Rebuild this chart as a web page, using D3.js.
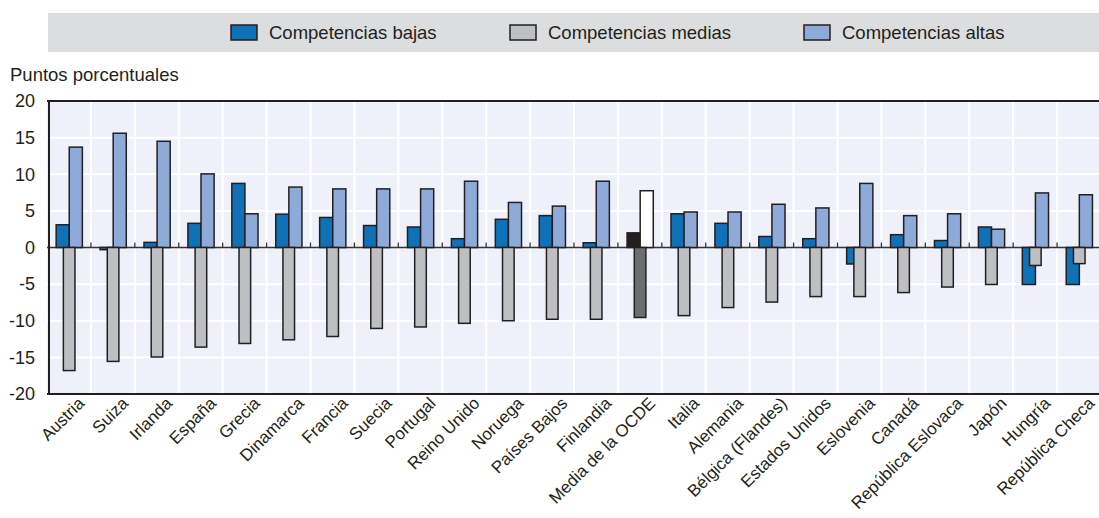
<!DOCTYPE html>
<html><head><meta charset="utf-8">
<script src="https://d3js.org/d3.v7.min.js"></script>
<style>
body{margin:0;background:#fff}
text{font-family:"Liberation Sans",Arial,Helvetica,sans-serif;fill:#231f20}
</style></head>
<body><svg id="chart" width="1099" height="518"></svg>
<script>
const categories = ["Austria","Suiza","Irlanda","España","Grecia","Dinamarca","Francia","Suecia","Portugal","Reino Unido","Noruega","Países Bajos","Finlandia","Media de la OCDE","Italia","Alemania","Bélgica (Flandes)","Estados Unidos","Eslovenia","Canadá","República Eslovaca","Japón","Hungría","República Checa"];
const bajas  = [3.1,-0.3,0.7,3.3,8.75,4.55,4.1,3.0,2.8,1.2,3.85,4.35,0.65,2.0,4.6,3.3,1.5,1.2,-2.25,1.75,0.95,2.8,-5.05,-5.05];
const medias = [-16.8,-15.55,-14.95,-13.6,-13.1,-12.6,-12.15,-11.05,-10.85,-10.35,-10.0,-9.8,-9.8,-9.55,-9.3,-8.2,-7.45,-6.7,-6.7,-6.15,-5.4,-5.05,-2.45,-2.2];
const altas  = [13.7,15.6,14.5,10.05,4.6,8.25,8.0,8.0,8.0,9.05,6.15,5.65,9.05,7.75,4.85,4.85,5.9,5.4,8.75,4.35,4.6,2.5,7.45,7.2];
const yTicks = [20,15,10,5,0,-5,-10,-15,-20];
const seriesNames = ["Competencias bajas","Competencias medias","Competencias altas"];
const highlight = "Media de la OCDE";

const colors = {bajas:"#0f71b8", medias:"#bebfc2", altas:"#8eaad8"};
const hiColors = {bajas:"#231f20", medias:"#6d6e71", altas:"#ffffff"};
const stroke = "#231f20";

const svg = d3.select("#chart");
const x = d3.scaleBand().domain(categories).range([47,1101]).padding(0);
const y = d3.scaleLinear().domain([-20,20]).range([394,101]);
const sub = d3.scaleBand().domain(["bajas","altas"]).range([-12.8,13.4]);

// legend band
svg.append("rect").attr("x",48).attr("y",13).attr("width",1051).attr("height",39).attr("fill","#dcdddf");
const legendX = [231,510,804];
const legKeys = ["bajas","medias","altas"];
seriesNames.forEach((n,i)=>{
  svg.append("rect").attr("x",legendX[i]).attr("y",25).attr("width",26).attr("height",15)
    .attr("fill",colors[legKeys[i]]).attr("stroke",stroke).attr("stroke-width",1.5);
  svg.append("text").attr("x",legendX[i]+38).attr("y",39).attr("font-size",18.5).text(n);
});

// axis title
svg.append("text").attr("x",10).attr("y",81).attr("font-size",18.5).text("Puntos porcentuales");

// plot background
svg.append("rect").attr("x",x.range()[0]).attr("y",y(20)).attr("width",x.range()[1]-x.range()[0]).attr("height",y(-20)-y(20)).attr("fill","#eef1f9");

// horizontal grid
svg.append("g").selectAll("line").data(yTicks.filter(t=>t!==20&&t!==-20&&t!==0)).join("line")
  .attr("x1",x.range()[0]).attr("x2",x.range()[1]).attr("y1",d=>y(d)).attr("y2",d=>y(d))
  .attr("stroke","#ffffff").attr("stroke-width",2);
// vertical grid
svg.append("g").selectAll("line").data(categories.slice(1)).join("line")
  .attr("x1",d=>x(d)).attr("x2",d=>x(d)).attr("y1",y(20)).attr("y2",y(-20))
  .attr("stroke","#ffffff").attr("stroke-width",2);

// zero line & ticks
svg.append("line").attr("x1",x.range()[0]).attr("x2",x.range()[1]).attr("y1",y(0)).attr("y2",y(0))
  .attr("stroke","#333").attr("stroke-width",1.3);
svg.append("g").selectAll("line").data(categories.slice(1)).join("line")
  .attr("x1",d=>x(d)).attr("x2",d=>x(d)).attr("y1",y(0)).attr("y2",y(0)-5)
  .attr("stroke","#333").attr("stroke-width",1.3);

const c = d => x(d)+x.bandwidth()/2;
const barG = svg.append("g");
function bars(vals,key,x0,w){
  barG.append("g").selectAll("rect").data(categories).join("rect")
    .attr("x",(d)=>c(d)+x0).attr("width",w)
    .attr("y",(d,i)=>y(Math.max(0,vals[i]))).attr("height",(d,i)=>Math.abs(y(vals[i])-y(0)))
    .attr("fill",d=>d===highlight?hiColors[key]:colors[key])
    .attr("stroke",stroke).attr("stroke-width",1.5);
}
bars(bajas,"bajas",sub("bajas"),sub.bandwidth());
bars(altas,"altas",sub("altas"),sub.bandwidth());
bars(medias,"medias",-5.6,11.6);

// frame lines
svg.append("line").attr("x1",x.range()[0]).attr("x2",x.range()[1]).attr("y1",y(20)).attr("y2",y(20)).attr("stroke",stroke).attr("stroke-width",2);
svg.append("line").attr("x1",x.range()[0]).attr("x2",x.range()[1]).attr("y1",y(-20)).attr("y2",y(-20)).attr("stroke",stroke).attr("stroke-width",2);
svg.append("line").attr("x1",49).attr("x2",49).attr("y1",y(20)-1).attr("y2",y(-20)+1).attr("stroke",stroke).attr("stroke-width",2);

// y tick labels
svg.append("g").selectAll("text").data(yTicks).join("text")
  .attr("x",35).attr("y",d=>y(d)).attr("dy","0.35em").attr("text-anchor","end").attr("font-size",18)
  .text(d=>d);

// x labels
svg.append("g").selectAll("text").data(categories).join("text")
  .attr("transform",d=>`translate(${c(d)+8},${396}) rotate(-45)`)
  .attr("text-anchor","end").attr("dy","0.7em").attr("font-size",17).text(d=>d);
</script></body></html>
